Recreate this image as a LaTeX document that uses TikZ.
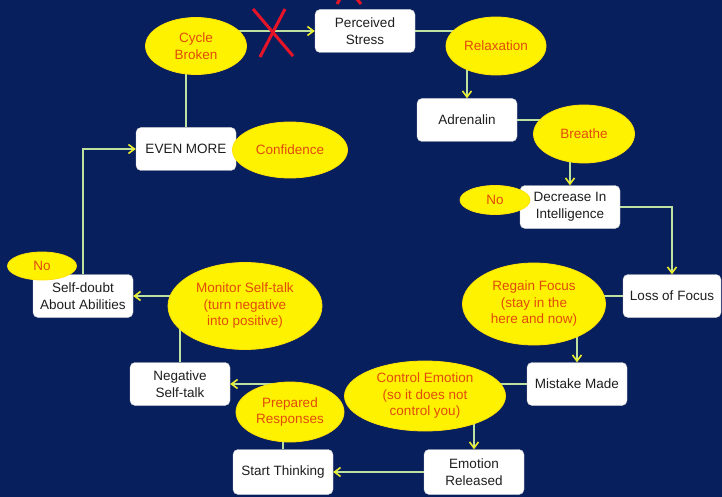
\documentclass[tikz,border=0pt]{standalone}
\usepackage{fontspec}
\setmainfont{Liberation Sans}
\usetikzlibrary{shapes.geometric,arrows.meta,calc}
\definecolor{bgnavy}{RGB}{8,31,94}
\definecolor{linegreen}{RGB}{190,225,160}
\definecolor{tipyellow}{RGB}{235,240,40}
\definecolor{ovaltext}{RGB}{225,75,10}
\definecolor{xred}{RGB}{230,20,40}
\definecolor{boxtext}{RGB}{30,30,30}
\pgfdeclarelayer{back}
\pgfdeclarelayer{lines}
\pgfsetlayers{back,lines,main}
\tikzset{
  box/.style={draw=gray!40, fill=white, rounded corners=5pt, minimum width=100pt,
    minimum height=43pt, inner sep=1pt, align=center, text=boxtext,
    font=\fontsize{13.5}{17}\selectfont},
  oval/.style={ellipse, fill=yellow, draw=yellow!85!orange, line width=0.8pt, inner sep=0pt,
    align=center, text=ovaltext, font=\fontsize{13.5}{16.5}\selectfont},
  conn/.style={draw=linegreen, line width=1.3pt},
  arr/.style={conn, -{Straight Barb[length=6pt,width=9pt,line width=1.6pt,color=tipyellow]}},
  xmark/.style={draw=xred, line width=3pt},
}
\begin{document}
\begin{tikzpicture}[x=1pt,y=-1pt]
\begin{pgfonlayer}{back}
\fill[bgnavy] (0,0) rectangle (722,497);
\end{pgfonlayer}
\useasboundingbox (0,0) rectangle (722,497);

% boxes
\node[box] (ps) at (365,31) {Perceived\\Stress};
\node[box] (ad) at (467,120) {Adrenalin};
\node[box] (dc) at (570,207) {Decrease In\\Intelligence};
\node[box, minimum width=98pt] (lf) at (672,296) {Loss of Focus};
\node[box] (mm) at (577,384) {Mistake Made};
\node[box, minimum height=45pt] (er) at (474,472) {Emotion\\Released};
\node[box, minimum height=45pt] (st) at (283,472) {Start Thinking};
\node[box] (ns) at (180,384) {Negative\\Self-talk};
\node[box] (sd) at (83,296) {Self-doubt\\About Abilities};
\node[box] (em) at (186,149) {EVEN MORE};

% ovals
\node[oval, minimum width=101pt, minimum height=57pt] (cb) at (196,46) {Cycle\\Broken};
\node[oval, minimum width=100pt, minimum height=58pt] (rl) at (496,46) {Relaxation};
\node[oval, minimum width=101pt, minimum height=58pt] (br) at (584,134) {Breathe};
\node[oval, minimum width=70pt, minimum height=29pt] (no1) at (495,200) {No};
\node[oval, minimum width=143pt, minimum height=82pt] (rf) at (534,304) {Regain Focus\\(stay in the\\here and now)};
\node[oval, minimum width=161pt, minimum height=70pt] (ce) at (425,396) {Control Emotion\\(so it does not\\control you)};
\node[oval, minimum width=108pt, minimum height=60pt] (pr) at (290,412) {Prepared\\Responses};
\node[oval, minimum width=154pt, minimum height=87pt] (mo) at (245,306) {Monitor Self-talk\\(turn negative\\into positive)};
\node[oval, minimum width=69pt, minimum height=28pt] (no2) at (42,266) {No};
\node[oval, minimum width=115pt, minimum height=56pt] (cf) at (290,150) {Confidence};

% connectors
\begin{pgfonlayer}{lines}
\draw[arr] (cb.center |- ps.west) -- (ps.west);
\draw[conn] (ps.east) -- (rl.center |- ps.east);
\draw[arr] (ad.north |- rl.center) -- (ad.north);
\draw[conn] (ad.east) -- (br.center |- ad.east);
\draw[arr] (dc.north |- br.center) -- (dc.north);
\draw[arr] (dc.east) -- (lf.north |- dc.east) -- (lf.north);
\draw[conn] (lf.west) -- (rf.center |- lf.west);
\draw[arr] (mm.north |- rf.center) -- (mm.north);
\draw[conn] (mm.west) -- (ce.center |- mm.west);
\draw[arr] (er.north |- ce.center) -- (er.north);
\draw[arr] (er.west) -- (st.east);
\draw[conn] (st.north) -- (st.north |- pr.center);
\draw[arr] (pr.center |- ns.east) -- (ns.east);
\draw[conn] (ns.north) -- (ns.north |- mo.center);
\draw[arr] (mo.center |- sd.east) -- (sd.east);
\draw[arr] (sd.north) -- (sd.north |- em.west) -- (em.west);
\draw[conn] (em.north) -- (em.north |- cb.center);
\end{pgfonlayer}

% red crosses
\coordinate (xa) at (273,32);
\draw[xmark] ($(xa)+(-20,-23)$) -- ($(xa)+(20,24)$);
\draw[xmark] ($(xa)+(12,-23)$) -- ($(xa)+(-13,25)$);
\begin{scope}
\clip (0,0) rectangle (722,497);
\coordinate (xb) at (347,-14);
\draw[xmark] ($(xb)+(-14,-16)$) -- ($(xb)+(14,18)$);
\draw[xmark] ($(xb)+(10,-16)$) -- ($(xb)+(-10,18)$);
\end{scope}
\end{tikzpicture}
\end{document}
